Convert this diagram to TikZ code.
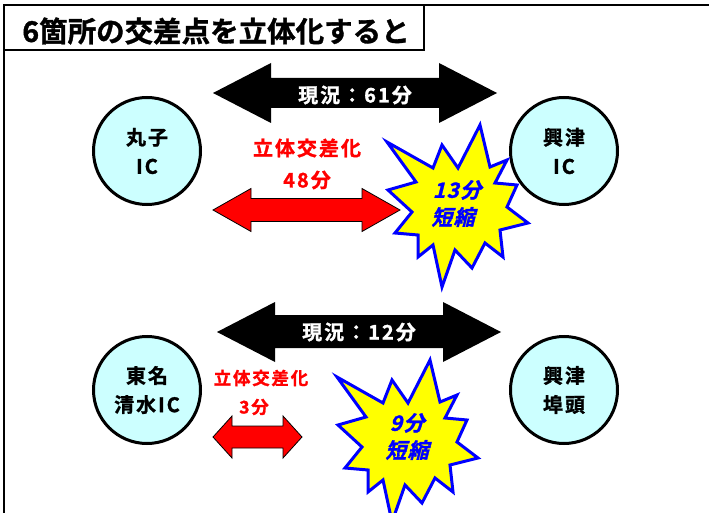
\documentclass[tikz,border=0pt]{standalone}
\usepackage{fontspec}
\newfontfamily\jpt{Noto Sans CJK JP Bold}[FakeBold=1.2]
\newfontfamily\jp{Noto Sans CJK JP Bold}[LetterSpace=10,FakeBold=1.2]
\newfontfamily\jpi{Noto Sans CJK JP Bold}[LetterSpace=6,FakeSlant=0.25,FakeBold=1.2]
\definecolor{circfill}{RGB}{204,255,255}
\definecolor{starblue}{RGB}{0,0,255}
\definecolor{staryellow}{RGB}{255,255,0}
\definecolor{arrred}{RGB}{255,0,0}
\begin{document}
\begin{tikzpicture}[x=1pt,y=-1pt,
  place/.style={circle, draw=black, line width=3pt, fill=circfill, minimum size=107pt, inner sep=0pt, align=center, font={\jp\fontsize{20pt}{29pt}\selectfont}},
  blackarrow/.style={fill=black},
  redarrow/.style={fill=arrred, draw=black, line width=0.8pt},
  burst/.style={fill=staryellow, draw=starblue, line width=3pt, line join=miter, miter limit=20},
  curtext/.style={text=white, font={\jp\fontsize{20pt}{24pt}\selectfont}, inner sep=0pt},
  redtext/.style={text=arrred, font={\jp\fontsize{20pt}{24pt}\selectfont}, inner sep=0pt},
  redsmall/.style={text=arrred, font={\jp\fontsize{17.5pt}{21pt}\selectfont}, inner sep=0pt},
  bursttext/.style={text=starblue, font={\jpi\fontsize{21pt}{24pt}\selectfont}, inner sep=0pt},
  titletext/.style={font={\jpt\fontsize{28.5pt}{32pt}\selectfont}, inner sep=0pt}
]
\useasboundingbox (0,0) rectangle (709,513);
\clip (0,0) rectangle (709,513);
\fill[white] (0,0) rectangle (709,513);

% outer frame and title box
\draw[line width=1.5pt] (4,530) -- (4,5) -- (730,5);
\draw[line width=2pt, fill=white] (4,5) rectangle (424,50);
\node[titletext] (title) at (216,31) {6箇所の交差点を立体化すると};

% circles
\node[place] (maruko) at (147,151) {丸子\\IC};
\node[place] (okitsuic) at (564,151) {興津\\IC};
\node[place] (shimizu) at (147,390) {東名\\清水IC};
\node[place] (futou) at (564,390) {興津\\埠頭};

% top: current black arrow
\path[blackarrow] (213,93) -- (271,63) -- (271,78) -- (439,78) -- (439,63) -- (497,93)
  -- (439,123) -- (439,108) -- (271,108) -- (271,123) -- cycle;
\node[curtext] (cur1) at (355,95) {現況：61分};

% top: red arrow
\path[redarrow] (213,210) -- (251,188.5) -- (251,198.5) -- (362,198.5) -- (362,188.5) -- (400,210)
  -- (362,231.5) -- (362,221.5) -- (251,221.5) -- (251,231.5) -- cycle;
\node[redtext] (red1a) at (307,148) {立体交差化};
\node[redtext] (red1b) at (307,180) {48分};

% top burst
\def\burstpath{(480,125) -- (490,167) -- (507,160) -- (495,183) -- (517,185) -- (507,207) -- (528,223) -- (500,230) -- (503,257) -- (485,243) -- (472,268) -- (455,250) -- (442,287) -- (433,245) -- (418,257) -- (418,235) -- (395,233) -- (412,212) -- (388,190) -- (416,182) -- (387,142) -- (433,168) -- (442,145) -- (458,168) -- cycle}
\draw[burst] \burstpath;
\node[bursttext] (b1a) at (457,190) {13分};
\node[bursttext] (b1b) at (453,217) {短縮};

% bottom: current black arrow
\path[blackarrow] (217,332) -- (275,302) -- (275,315) -- (443,315) -- (443,302) -- (501,332)
  -- (443,362) -- (443,348) -- (275,348) -- (275,362) -- cycle;
\node[curtext] (cur2) at (359,332) {現況：12分};

% bottom: red arrow
\path[redarrow] (213,437) -- (232,416) -- (232,426) -- (283,426) -- (283,416) -- (302,437)
  -- (283,458) -- (283,448) -- (232,448) -- (232,458) -- cycle;
\node[redsmall] (red2a) at (261,378) {立体交差化};
\node[redsmall] (red2b) at (254,407) {3分};

% bottom burst
\begin{scope}[shift={(-50,235)}]
\draw[burst] \burstpath;
\end{scope}
\node[bursttext] (b2a) at (407,423) {9分};
\node[bursttext] (b2b) at (407,450) {短縮};
\end{tikzpicture}
\end{document}
